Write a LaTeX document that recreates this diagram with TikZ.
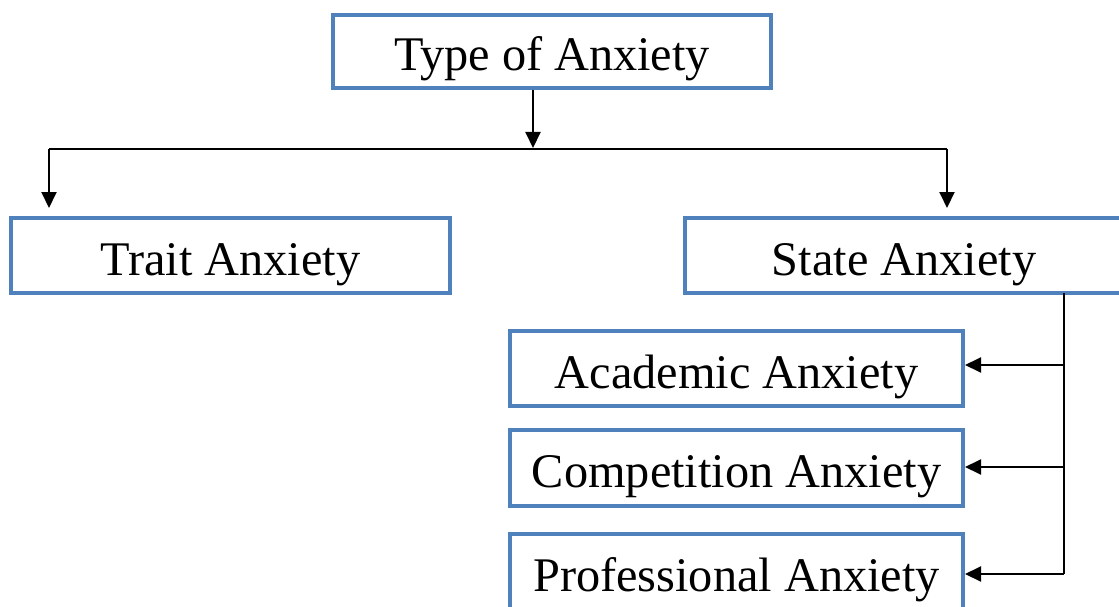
\documentclass[tikz,border=0pt]{standalone}
\usepackage{fontspec}
\setmainfont{Liberation Serif}
\usetikzlibrary{arrows.meta}
\definecolor{boxblue}{RGB}{79,129,189}
\begin{document}
\begin{tikzpicture}[x=1pt,y=-1pt,
  box/.style={draw=boxblue, line width=4pt, fill=white, rectangle, inner sep=0pt,
    text height=39pt, text depth=0pt,
    font=\fontsize{48.3pt}{58pt}\selectfont, text=black},
  conn/.style={line width=2pt, black},
  arr/.style={conn, -{Triangle[length=16pt,width=15pt]}}]
\clip (0,0) rectangle (1119,607);
\fill[white] (0,0) rectangle (1119,607);
\node[box, minimum width=438pt, minimum height=73pt] (top) at (552,51.5) {Type of Anxiety};
\node[box, minimum width=439pt, minimum height=75pt] (trait) at (230.5,255.5) {Trait Anxiety};
\node[box, minimum width=438pt, minimum height=75pt] (state) at (904,255.5) {State Anxiety};
\node[box, minimum width=453pt, minimum height=75pt] (acad) at (736.5,368.5) {Academic Anxiety};
\node[box, minimum width=453pt, minimum height=76pt] (comp) at (736.5,468) {Competition Anxiety};
\node[box, minimum width=453pt, minimum height=76pt] (prof) at (736.5,572) {Professional Anxiety};
% top branch
\coordinate (tdown) at (533,148);
\coordinate (hl) at (49,149);
\coordinate (hr) at (947,149);
\coordinate (tl) at (49,208);
\coordinate (tr) at (947,208);
\draw[arr] (top.south -| tdown) -- (tdown);
\draw[conn] (hl) -- (hr);
\draw[arr] (hl) -- (tl);
\draw[arr] (hr) -- (tr);
% right branch
\coordinate (vtop) at (1064,293);
\coordinate (vbot) at (1064,574);
\coordinate (ya) at (1064,365);
\coordinate (yc) at (1064,467);
\draw[conn] (vtop) -- (vbot);
\draw[arr] (ya) -- (ya -| acad.east);
\draw[arr] (yc) -- (yc -| comp.east);
\draw[arr] (vbot) -- (vbot -| prof.east);
\end{tikzpicture}
\end{document}
